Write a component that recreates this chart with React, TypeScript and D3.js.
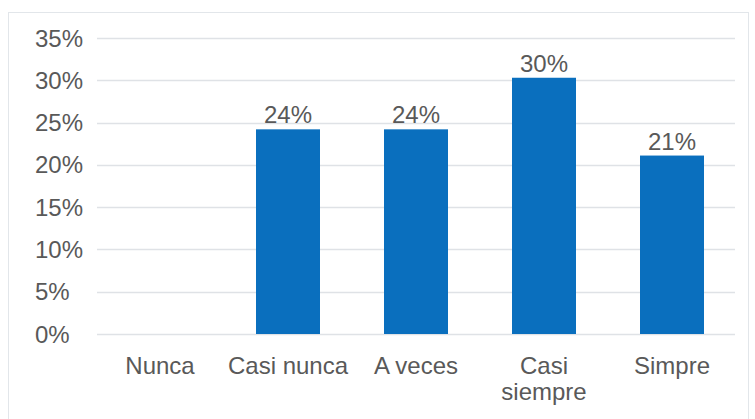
import React, { useEffect, useRef } from "react";
import * as d3 from "d3";

const categories = ["Nunca", "Casi nunca", "A veces", "Casi siempre", "Simpre"];
const categoryLines = [["Nunca"], ["Casi nunca"], ["A veces"], ["Casi", "siempre"], ["Simpre"]];
const values = [0, 24.2, 24.2, 30.3, 21.1];
const yTicks = [0, 5, 10, 15, 20, 25, 30, 35];

export default function App() {
  const ref = useRef<SVGSVGElement>(null);

  useEffect(() => {
    const width = 755;
    const height = 419;
    const svg = d3.select(ref.current).attr("width", width).attr("height", height);
    svg.selectAll("*").remove();

    const font = "'Liberation Sans', Arial, sans-serif";
    const textColor = "#595959";
    const fontSize = 24;

    svg.append("rect").attr("width", width).attr("height", height).attr("fill", "#fff");

    // outer frame
    svg
      .append("rect")
      .attr("x", 8.5)
      .attr("y", 12.5)
      .attr("width", 740)
      .attr("height", 420)
      .attr("fill", "none")
      .attr("stroke", "#e2e6ea")
      .attr("stroke-width", 1);

    const x = d3.scaleBand<string>().domain(categories).range([96, 736]).paddingInner(0.5).paddingOuter(0.25);
    const y = d3.scaleLinear().domain([0, 35]).range([334, 38]);

    // gridlines
    svg
      .append("g")
      .selectAll("line")
      .data(yTicks)
      .join("line")
      .attr("x1", 97)
      .attr("x2", 735)
      .attr("y1", (d) => Math.round(y(d)) + 0.5)
      .attr("y2", (d) => Math.round(y(d)) + 0.5)
      .attr("stroke", "#dfe2e6")
      .attr("stroke-width", 1.5);

    // y tick labels
    svg
      .append("g")
      .selectAll("text")
      .data(yTicks)
      .join("text")
      .attr("x", 35)
      .attr("y", (d) => y(d))
      .attr("dy", "0.36em")
      .attr("font-family", font)
      .attr("font-size", fontSize)
      .attr("fill", textColor)
      .text((d) => `${d}%`);

    const data = categories.map((c, i) => ({ c, v: values[i] }));

    // bars
    svg
      .append("g")
      .selectAll("rect")
      .data(data.filter((d) => d.v > 0))
      .join("rect")
      .attr("x", (d) => x(d.c)!)
      .attr("y", (d) => y(d.v))
      .attr("width", x.bandwidth())
      .attr("height", (d) => y(0) - y(d.v))
      .attr("fill", "#0a6fbe");

    // value labels
    svg
      .append("g")
      .selectAll("text")
      .data(data.filter((d) => d.v > 0))
      .join("text")
      .attr("x", (d) => x(d.c)! + x.bandwidth() / 2)
      .attr("y", (d) => y(d.v) - 6)
      .attr("text-anchor", "middle")
      .attr("font-family", font)
      .attr("font-size", fontSize)
      .attr("fill", textColor)
      .text((d) => `${Math.round(d.v)}%`);

    // category labels
    const cat = svg
      .append("g")
      .selectAll("text")
      .data(categories)
      .join("text")
      .attr("x", (d) => x(d)! + x.bandwidth() / 2)
      .attr("y", 374)
      .attr("text-anchor", "middle")
      .attr("font-family", font)
      .attr("font-size", fontSize)
      .attr("fill", textColor);

    cat
      .selectAll("tspan")
      .data((d, i) => categoryLines[i])
      .join("tspan")
      .attr("x", function () {
        return (this.parentNode as SVGTextElement).getAttribute("x");
      })
      .attr("dy", (d, i) => (i === 0 ? 0 : 26))
      .text((d) => d);
  }, []);

  return <svg ref={ref} style={{ position: "absolute", left: 0, top: 0 }}></svg>;
}
